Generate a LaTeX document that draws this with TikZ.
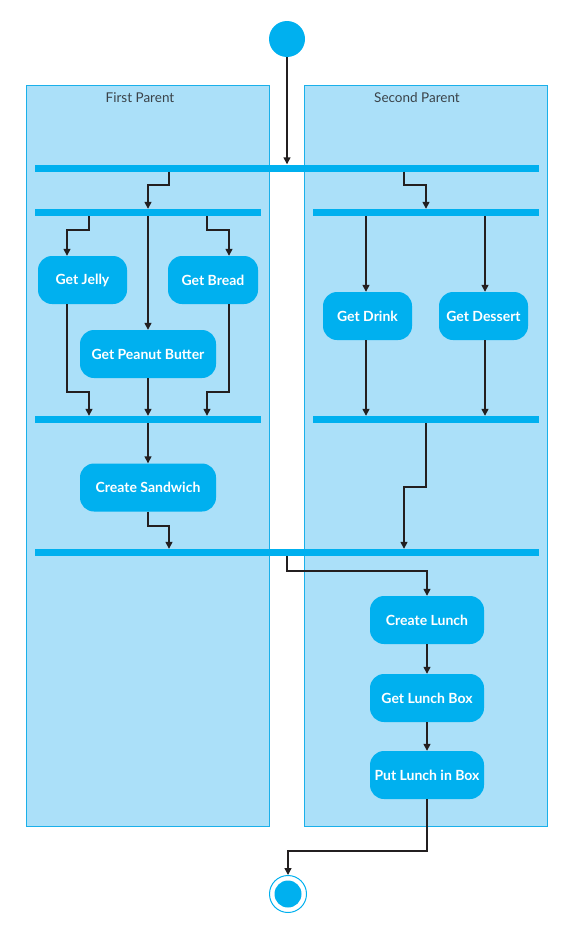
\documentclass[tikz,border=0pt]{standalone}
\usepackage{fontspec}
\setmainfont{Lato}
\usetikzlibrary{arrows.meta}
\definecolor{cyanA}{HTML}{00B0EF}
\definecolor{laneF}{HTML}{ABE0F9}
\definecolor{laneD}{HTML}{1AB0EA}
\definecolor{ink}{HTML}{231F20}
\definecolor{lbl}{HTML}{3A4248}
\tikzset{
  lane/.style={draw=laneD, fill=laneF, line width=0.9pt},
  lanelabel/.style={text=lbl, font=\fontsize{13.5}{15}\selectfont},
  bar/.style={fill=cyanA, inner sep=0pt, minimum height=7pt},
  act/.style={fill=cyanA, rounded corners=14pt, inner sep=0pt, minimum height=48pt,
     text=white, font=\bfseries\fontsize{14}{16}\selectfont},
  arr/.style={draw=ink, line width=1.4pt, -{Triangle[length=7pt,width=7pt]}},
}
\begin{document}
\begin{tikzpicture}[x=1pt,y=-1pt]
\useasboundingbox (0,0) rectangle (563,926);
% lanes
\node[lane, minimum width=243pt, minimum height=741pt, anchor=north west, inner sep=0pt] (laneL) at (26,85) {};
\node[lane, minimum width=243pt, minimum height=741pt, anchor=north west, inner sep=0pt] (laneR) at (304,85) {};
\node[lanelabel] (labL) at (140,98) {First Parent};
\node[lanelabel] (labR) at (417,98) {Second Parent};
% start / end
\node[circle, fill=cyanA, minimum size=36pt, inner sep=0pt] (start) at (287,39) {};
\node[circle, draw=cyanA, fill=white, line width=1pt, minimum size=37pt, inner sep=0pt] (end) at (288,894) {};
\node[circle, fill=cyanA, minimum size=27pt, inner sep=0pt] (endin) at (288,894) {};
% bars
\node[bar, minimum width=504pt] (bar1) at (287,168) {};
\node[bar, minimum width=226pt] (bar2l) at (148,212.5) {};
\node[bar, minimum width=226pt] (bar2r) at (426,212.5) {};
\node[bar, minimum width=226pt] (bar3l) at (148,419.5) {};
\node[bar, minimum width=226pt] (bar3r) at (426,419.5) {};
\node[bar, minimum width=504pt] (bar4) at (287,552.5) {};
% activities
\node[act, minimum width=89pt] (jelly) at (82.5,280) {Get Jelly};
\node[act, minimum width=90pt] (bread) at (213,280) {Get Bread};
\node[act, minimum width=136pt] (pb) at (148,354) {Get Peanut Butter};
\node[act, minimum width=136pt] (sand) at (148,487.5) {Create Sandwich};
\node[act, minimum width=89pt] (drink) at (367.5,316) {Get Drink};
\node[act, minimum width=89pt] (dessert) at (483.5,316) {Get Dessert};
\node[act, minimum width=114pt] (clunch) at (427,620) {Create Lunch};
\node[act, minimum width=114pt] (lbox) at (427,698) {Get Lunch Box};
\node[act, minimum width=114pt] (put) at (427,775) {Put Lunch in Box};
% connectors
\draw[arr] (start) -- (start |- bar1.north);
\draw[arr] (bar1.south -| 169,0) -- (169,185) -| (bar2l.north -| 148,0);
\draw[arr] (bar1.south -| 404,0) -- (404,185) -| (bar2r.north -| 426,0);
\draw[arr] (bar2l.south -| 89,0) -- (89,230) -| (jelly.north -| 67,0);
\draw[arr] (bar2l.south -| 148,0) -- (pb.north);
\draw[arr] (bar2l.south -| 207,0) -- (207,230) -| (bread.north -| 229,0);
\draw[arr] (jelly.south -| 67,0) -- (67,392) -| (bar3l.north -| 89,0);
\draw[arr] (pb.south) -- (bar3l.north -| pb.south);
\draw[arr] (bread.south -| 229,0) -- (229,392) -| (bar3l.north -| 207,0);
\draw[arr] (bar3l.south -| sand.north) -- (sand.north);
\draw[arr] (sand.south) -- (148,526) -| (bar4.north -| 169,0);
\draw[arr] (bar2r.south -| 366,0) -- (drink.north -| 366,0);
\draw[arr] (bar2r.south -| 485,0) -- (dessert.north -| 485,0);
\draw[arr] (drink.south -| 366,0) -- (bar3r.north -| 366,0);
\draw[arr] (dessert.south -| 485,0) -- (bar3r.north -| 485,0);
\draw[arr] (bar3r.south -| 426,0) -- (426,487) -| (bar4.north -| 404,0);
\draw[arr] (bar4.south -| 287,0) -- (287,571) -| (clunch.north);
\draw[arr] (clunch) -- (lbox);
\draw[arr] (lbox) -- (put);
\draw[arr] (put.south) -- (427,851) -| (end.north);
\end{tikzpicture}
\end{document}
